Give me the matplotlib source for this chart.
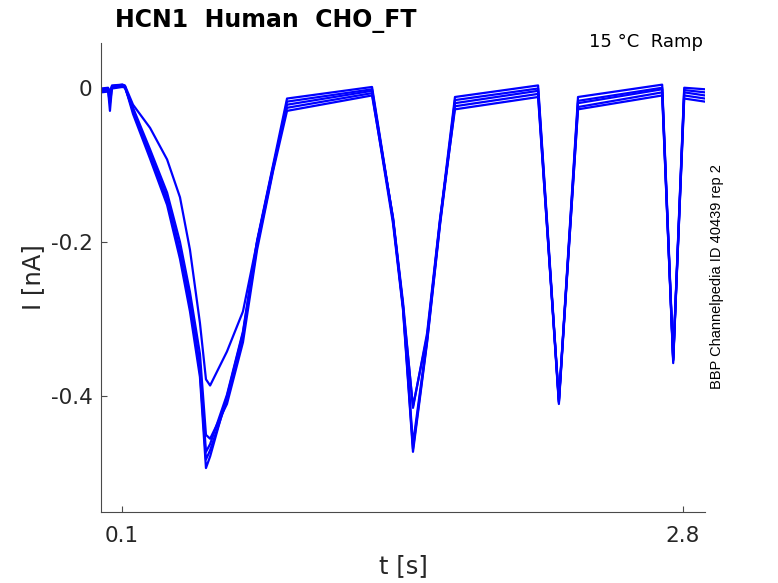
import matplotlib
matplotlib.use("Agg")
import matplotlib.pyplot as plt

# knot times of the ramp traces (s)
t_knots = [0.000, 0.034, 0.043, 0.053, 0.103, 0.115, 0.154, 0.236, 0.318,
           0.380, 0.428, 0.476, 0.505, 0.525, 0.606, 0.683, 0.751, 0.828,
           0.895, 1.304, 1.405, 1.453, 1.501, 1.569, 1.631, 1.703, 2.103,
           2.203, 2.295, 2.700, 2.753, 2.806, 2.906]

# current of each sweep at those times (nA)
sweep_a = [-0.002, -0.003, -0.030, 0.001, 0.003, 0.002, -0.034, -0.092, -0.152,
           -0.222, -0.290, -0.375, -0.493, -0.478, -0.400, -0.318, -0.200, -0.102,
           -0.026, -0.007, -0.176, -0.288, -0.472, -0.330, -0.178, -0.024, -0.008,
           -0.410, -0.025, -0.006, -0.357, -0.010, -0.014]
sweep_b = [-0.004, -0.002, -0.010, 0.002, 0.004, 0.002, -0.030, -0.088, -0.146,
           -0.215, -0.282, -0.368, -0.482, -0.470, -0.405, -0.322, -0.205, -0.106,
           -0.018, -0.002, -0.172, -0.285, -0.468, -0.328, -0.176, -0.016, -0.001,
           -0.408, -0.017, 0.000, -0.354, -0.003, -0.006]
sweep_c = [-0.006, -0.005, -0.008, -0.001, 0.001, 0.000, -0.028, -0.085, -0.142,
           -0.210, -0.275, -0.360, -0.472, -0.462, -0.398, -0.316, -0.198, -0.100,
           -0.014, 0.001, -0.170, -0.282, -0.462, -0.325, -0.172, -0.012, 0.003,
           -0.405, -0.012, 0.004, -0.350, 0.000, -0.002]
sweep_d = [-0.003, -0.004, -0.020, 0.000, 0.002, 0.001, -0.026, -0.080, -0.136,
           -0.200, -0.265, -0.345, -0.450, -0.455, -0.410, -0.330, -0.210, -0.108,
           -0.030, -0.010, -0.168, -0.278, -0.415, -0.318, -0.170, -0.028, -0.012,
           -0.404, -0.028, -0.010, -0.352, -0.014, -0.018]
sweep_e = [-0.001, 0.000, -0.005, 0.003, 0.004, 0.003, -0.022, -0.052, -0.093,
           -0.142, -0.210, -0.305, -0.378, -0.386, -0.342, -0.290, -0.200, -0.104,
           -0.022, -0.004, -0.170, -0.283, -0.413, -0.322, -0.174, -0.020, -0.004,
           -0.407, -0.020, -0.002, -0.353, -0.006, -0.010]
sweeps = [sweep_a, sweep_b, sweep_c, sweep_d, sweep_e]

x_ticks = [0.1, 2.8]
y_ticks = [-0.4, -0.2, 0]
y_tick_labels = ["-0.4", "-0.2", "0"]

plt.rcParams["font.family"] = ["DejaVu Sans"]
ink = "#262626"

fig = plt.figure(figsize=(7.78, 5.83), dpi=100)
ax = fig.add_axes([101 / 778, 71 / 583, 604 / 778, 469 / 583])

for s in sweeps:
    ax.plot(t_knots, s, color="#0000ff", lw=1.6)

ax.set_xlim(0.0, 2.906)
ax.set_ylim(-0.550, 0.058)
ax.set_xticks(x_ticks)
ax.set_xticklabels(["0.1", "2.8"])
ax.set_yticks(y_ticks)
ax.set_yticklabels(y_tick_labels)

for side in ["top", "right"]:
    ax.spines[side].set_visible(False)
for side in ["left", "bottom"]:
    ax.spines[side].set_color("#4a4a4a")
    ax.spines[side].set_linewidth(0.8)

ax.tick_params(direction="in", length=4.3, width=0.8, color="#4a4a4a",
               labelcolor=ink, labelsize=15.5)
ax.tick_params(axis="x", pad=10)
ax.tick_params(axis="y", pad=6)

ax.set_xlabel("t [s]", fontsize=17.5, color=ink, labelpad=6)
ax.set_ylabel("I [nA]", fontsize=17.5, color=ink, labelpad=4)

fig.text(115 / 778, 1 - 27 / 583, "HCN1  Human  CHO_FT", fontsize=17,
         fontweight="bold", color="black", ha="left", va="baseline")
fig.text(703 / 778, 1 - 47 / 583, "15 °C  Ramp", fontsize=13,
         color="black", ha="right", va="baseline")
fig.text(717 / 778, 1 - 277 / 583, "BBP Channelpedia ID 40439 rep 2",
         fontsize=10.5, family=["Liberation Sans", "DejaVu Sans"],
         rotation=90, ha="center", va="center", color="black")

fig.savefig("out.png", dpi=100)
